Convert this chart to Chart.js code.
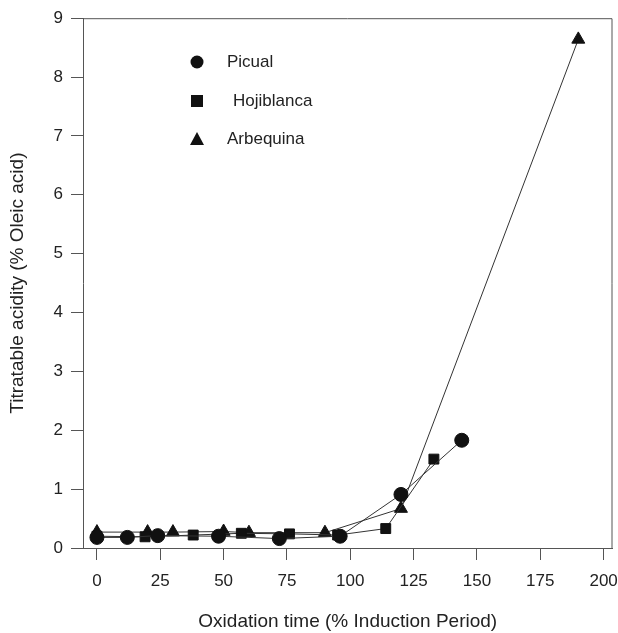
<html>
<head>
<meta charset="UTF-8">
<title>Titratable acidity vs oxidation time</title>
<script src="https://cdn.jsdelivr.net/npm/chart.js"></script>
<style>
  html, body { margin: 0; padding: 0; background: #fff; overflow: hidden; }
  #wrap { width: 621px; height: 633px; }
</style>
</head>
<body>
<div id="wrap"><canvas id="chart"></canvas></div>
<script>
// values
const seriesNames = ['Picual', 'Hojiblanca', 'Arbequina'];
const xPicual = [0, 12, 24, 48, 72, 96, 120, 144];
const yPicual = [0.18, 0.18, 0.21, 0.20, 0.16, 0.20, 0.91, 1.83];
const xHoji = [0, 19, 38, 57, 76, 95, 114, 133];
const yHoji = [0.20, 0.19, 0.22, 0.25, 0.24, 0.22, 0.33, 1.51];
const xArbe = [0, 20, 30, 50, 60, 90, 120, 190];
const yArbe = [0.27, 0.27, 0.27, 0.28, 0.26, 0.26, 0.67, 8.64];
const xTicks = [0, 25, 50, 75, 100, 125, 150, 175, 200];
const yTicks = [0, 1, 2, 3, 4, 5, 6, 7, 8, 9];

const pts = (xs, ys) => xs.map((x, i) => ({ x: x, y: ys[i] }));
const font = "'Liberation Sans', Arial, sans-serif";

function ds(label, data, style, r) {
  return {
    label: label, data: data,
    borderColor: '#333', borderWidth: 1,
    pointStyle: style, pointRadius: r, pointHoverRadius: r,
    pointBackgroundColor: '#111', pointBorderColor: '#111', pointBorderWidth: 1,
    tension: 0, fill: false
  };
}

// box around the plot + legend inside it
const frame = {
  id: 'frame',
  afterDraw(chart) {
    const { ctx, chartArea: a } = chart;
    ctx.save();
    ctx.strokeStyle = '#555';
    ctx.lineWidth = 1;
    ctx.beginPath();
    ctx.moveTo(a.left, a.top + 0.5);
    ctx.lineTo(a.right - 0.5, a.top + 0.5);
    ctx.lineTo(a.right - 0.5, a.bottom);
    ctx.stroke();

    const rows = [62, 101, 139];
    const mx = 197;
    ctx.fillStyle = '#111';
    // circle
    ctx.beginPath(); ctx.arc(mx, rows[0], 6.5, 0, Math.PI * 2); ctx.fill();
    // square
    ctx.fillRect(mx - 6, rows[1] - 6, 12, 12);
    // triangle
    ctx.beginPath();
    ctx.moveTo(mx, rows[2] - 7); ctx.lineTo(mx + 7, rows[2] + 6); ctx.lineTo(mx - 7, rows[2] + 6);
    ctx.closePath(); ctx.fill();

    ctx.font = '17px ' + font;
    ctx.textBaseline = 'middle';
    ctx.fillStyle = '#222';
    ctx.fillText(seriesNames[0], 227, rows[0]);
    ctx.fillText(seriesNames[1], 233, rows[1]);
    ctx.fillText(seriesNames[2], 227, rows[2]);
    ctx.restore();
  }
};

new Chart(document.getElementById('chart'), {
  type: 'line',
  data: {
    datasets: [
      ds(seriesNames[0], pts(xPicual, yPicual), 'circle', 7),
      ds(seriesNames[1], pts(xHoji, yHoji), 'rect', 7),
      ds(seriesNames[2], pts(xArbe, yArbe), 'triangle', 7.5)
    ]
  },
  options: {
    responsive: true,
    maintainAspectRatio: false,
    animation: false,
    layout: { padding: { top: 18, right: 0, left: 0, bottom: 0 } },
    plugins: { legend: { display: false }, tooltip: { enabled: false } },
    scales: {
      x: {
        type: 'linear', min: -5.5, max: 203.5,
        afterBuildTicks: s => { s.ticks = xTicks.map(v => ({ value: v })); },
        afterFit: s => { s.height = 85; s.paddingRight = 0; s.paddingLeft = 0; },
        grid: { drawOnChartArea: false, tickLength: 12, color: '#555' },
        border: { color: '#555' },
        ticks: { color: '#222', font: { family: font, size: 17 }, padding: 11, maxRotation: 0 },
        title: { display: true, text: 'Oxidation time (% Induction Period)', color: '#222',
                 font: { family: font, size: 19 }, padding: { top: 0, bottom: 0 } }
      },
      y: {
        type: 'linear', min: 0, max: 9,
        afterBuildTicks: s => { s.ticks = yTicks.map(v => ({ value: v })); },
        afterFit: s => { s.width = 83; },
        grid: { drawOnChartArea: false, tickLength: 12, color: '#555' },
        border: { color: '#555' },
        ticks: { color: '#222', font: { family: font, size: 17 }, padding: 8 },
        title: { display: true, text: 'Titratable acidity (% Oleic acid)', color: '#222',
                 font: { family: font, size: 19 }, padding: { top: 6, bottom: 0 } }
      }
    }
  },
  plugins: [frame]
});
</script>
</body>
</html>
